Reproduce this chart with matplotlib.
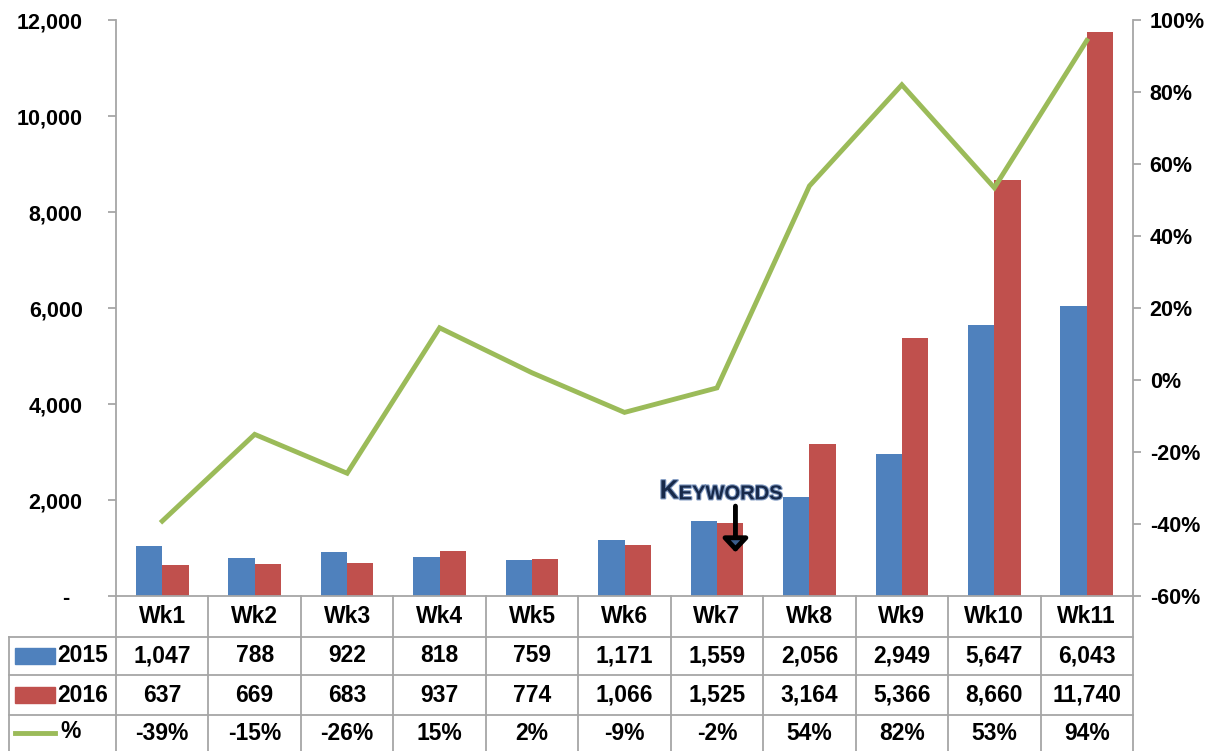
import matplotlib
matplotlib.use("Agg")
import matplotlib.pyplot as plt
import matplotlib.patheffects as pe
from matplotlib.patches import Rectangle
from matplotlib.ticker import FuncFormatter, MultipleLocator

weeks = ["Wk1", "Wk2", "Wk3", "Wk4", "Wk5", "Wk6", "Wk7", "Wk8", "Wk9", "Wk10", "Wk11"]
v2015 = [1047, 788, 922, 818, 759, 1171, 1559, 2056, 2949, 5647, 6043]
v2016 = [637, 669, 683, 937, 774, 1066, 1525, 3164, 5366, 8660, 11740]
pct = [-39.2, -15.1, -25.9, 14.5, 2.0, -9.0, -2.2, 53.9, 82.0, 53.4, 94.3]
pct_labels = ["-39%", "-15%", "-26%", "15%", "2%", "-9%", "-2%", "54%", "82%", "53%", "94%"]

BLUE = "#4F81BD"
RED = "#C0504D"
GREEN = "#9BBB59"
GRID = "#A6A6A6"
FONT = "Liberation Sans"

W, H = 1226, 751
fig = plt.figure(figsize=(W / 100, H / 100), dpi=100)

ov = fig.add_axes([0, 0, 1, 1])
ov.set_xlim(0, W)
ov.set_ylim(H, 0)
ov.axis("off")

x_left, x_right = 116, 1133
y_top, y_bot = 20, 596
ax = fig.add_axes([x_left / W, 1 - y_bot / H, (x_right - x_left) / W, (y_bot - y_top) / H])
ax.set_facecolor("none")

n = len(weeks)
xs = list(range(n))
bw = 0.285
ax.bar([x - bw / 2 for x in xs], v2015, width=bw, color=BLUE, zorder=2)
ax.bar([x + bw / 2 for x in xs], v2016, width=bw, color=RED, zorder=2)
ax.set_xlim(-0.5, n - 0.5)
ax.set_ylim(0, 12000)
ax.yaxis.set_major_locator(MultipleLocator(2000))
ax.yaxis.set_major_formatter(FuncFormatter(lambda v, p: "-  " if v == 0 else f"{int(v):,}"))
ax.set_xticks([])
for s in ["top", "right"]:
    ax.spines[s].set_visible(False)
for s in ["left", "bottom"]:
    ax.spines[s].set_color(GRID)
    ax.spines[s].set_linewidth(1.3)
ax.tick_params(axis="y", direction="out", length=6, color=GRID, width=1.3, pad=18,
               labelsize=15.5)
for lbl in ax.get_yticklabels():
    lbl.set_fontfamily(FONT)
    lbl.set_fontweight("bold")

ax2 = ax.twinx()
ax2.plot(xs, pct, color=GREEN, lw=3.5, zorder=3, solid_joinstyle="miter")
ax2.set_ylim(-60, 100)
ax2.yaxis.set_major_locator(MultipleLocator(20))
ax2.yaxis.set_major_formatter(FuncFormatter(lambda v, p: f"{int(round(v))}%"))
for s in ["top", "left", "bottom"]:
    ax2.spines[s].set_visible(False)
ax2.spines["right"].set_color(GRID)
ax2.spines["right"].set_linewidth(1.3)
ax2.tick_params(axis="y", direction="out", length=6, color=GRID, width=1.3, pad=6,
                labelsize=15.5)
for lbl in ax2.get_yticklabels():
    lbl.set_fontfamily(FONT)
    lbl.set_fontweight("bold")

# Keywords annotation
ax.annotate("", xy=(6.2, 850), xytext=(6.2, 1930),
            arrowprops=dict(arrowstyle="-|>,head_width=0.75,head_length=0.8",
                            lw=3.5, color="black", fc="#3B5E8C"), zorder=5)
glow = [pe.withStroke(linewidth=1.6, foreground="#7F98C0")]
tK = ax.text(5.38, 1930, "K", fontsize=19, fontweight="bold", color="#17294A",
             family=FONT, ha="left", va="bottom", zorder=6, path_effects=glow)
fig.canvas.draw()
bb = tK.get_window_extent()
ax.text(bb.x1, bb.y0, "EYWORDS", fontsize=14.5, fontweight="bold", color="#17294A",
        family=FONT, ha="left", va="bottom", zorder=6, transform=None, path_effects=glow)

# data table
cw = (x_right - x_left) / n
rows_y = [596, 637, 675, 715, 751]
for y in rows_y[1:4]:
    ov.plot([9, x_right], [y, y], color=GRID, lw=1.3)
for i in range(n + 1):
    x = x_left + i * cw
    ov.plot([x, x], [596, 751], color=GRID, lw=1.3)
ov.plot([9, 9], [637, 751], color=GRID, lw=1.3)

centers = [(rows_y[k] + rows_y[k + 1]) / 2 for k in range(4)]
tk = dict(fontsize=16.5, fontweight="bold", family=FONT, ha="center", va="center", color="black")
for i in range(n):
    cx = x_left + (i + 0.5) * cw
    ov.text(cx, centers[0], weeks[i], **tk)
    ov.text(cx, centers[1], f"{v2015[i]:,}", **tk)
    ov.text(cx, centers[2], f"{v2016[i]:,}", **tk)
    ov.text(cx, centers[3], pct_labels[i], **tk)

ov.add_patch(Rectangle((15, centers[1] - 8), 40, 16, color=BLUE))
ov.add_patch(Rectangle((15, centers[2] - 8), 40, 16, color=RED))
ov.plot([15, 55], [centers[3], centers[3]], color=GREEN, lw=3.5)
lk = dict(fontsize=16.5, fontweight="bold", family=FONT, ha="left", va="center", color="black")
ov.text(57, centers[1], "2015", **lk)
ov.text(57, centers[2], "2016", **lk)
ov.text(60, centers[3] - 2, "%", **lk)

fig.savefig("out.png", dpi=100)
